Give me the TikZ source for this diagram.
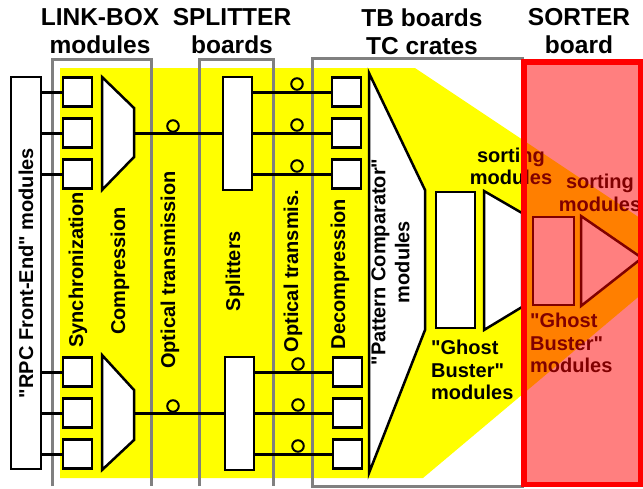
\documentclass[tikz,border=0pt]{standalone}
\usepackage{fontspec}
\setmainfont{Liberation Sans}[Ligatures=TeXOff]
\usepackage{xcolor}
\usepackage{tikz}
\usetikzlibrary{positioning, calc}
\definecolor{frgray}{RGB}{128,128,128}
\definecolor{hlyellow}{RGB}{255,255,0}

\begin{document}
\begin{tikzpicture}[x=1pt, y=-1pt,
  every node/.style={font=\fontsize{20}{22.5}\selectfont\bfseries, inner sep=0pt},
  title/.style={font=\fontsize{24.5}{28}\selectfont\bfseries, align=center, anchor=north},
  frame/.style={draw=frgray, line width=3pt},
  cell/.style={draw, line width=2.5pt, fill=white, minimum width=29pt, minimum height=29pt},
  link/.style={line width=3pt},
  fibre/.style={draw, circle, line width=2pt, minimum size=11.5pt},
  shell/.style={draw, line width=2.5pt, fill=white, line join=miter}]
\useasboundingbox (0,0) rectangle (643,488);

\fill[hlyellow] (60,68) -- (415,68) -- (643,220) -- (643,293) -- (423,478) -- (60,478) -- cycle;

\draw[frame] (52,486) |- (151,59) -- (151,486);
\draw[frame] (199,486) |- (273,59) -- (273,486);
\draw[frame] (312,486) |- (522,58) -- (522,486) -- cycle;

\node[title] (tlink) at (100,8.5) {LINK-BOX\\modules};
\node[title] (tsplit) at (232,8.5) {SPLITTER\\boards};
\node[title] (ttb) at (422,8.5) {TB boards\\TC crates};
\node[title] (tsort) at (579,8.5) {SORTER\\board};

\node[draw, line width=2.5pt, fill=white, rotate=90, minimum width=392pt, minimum height=30pt] (rpc) at (26,273) {"RPC Front-End" modules};

\foreach \i/\y in {1/92,2/133,3/174,4/372,5/413,6/454} {
  \node[cell] (s\i) at (77.5,\y) {};
  \draw[link] (rpc.south |- s\i.west) -- (s\i.west);
}

\draw[shell] (102,77) -- (134,108) -- (134,157) -- (102,190) -- cycle;
\coordinate (cmpa) at (134,133);
\draw[shell] (102,355) -- (134,390) -- (134,440) -- (102,470) -- cycle;
\coordinate (cmpb) at (134,413);

\node[cell, minimum height=113pt] (spla) at (237.5,133.5) {};
\node[cell, minimum height=113pt] (splb) at (239.5,413.5) {};

\draw[link] (cmpa) -- (cmpa -| spla.west);
\draw[link] (cmpb) -- (cmpb -| splb.west);
\node[fibre] (oa) at (173,126) {};
\node[fibre] (ob) at (173,406) {};

\foreach \i/\y in {1/92,2/133,3/174} {
  \node[cell] (d\i) at (346.5,\y) {};
  \draw[link] (spla.east |- d\i.west) -- (d\i.west);
  \node[fibre] (fa\i) at (297,\y-8) {};
}
\foreach \i/\y in {4/372,5/413,6/454} {
  \node[cell] (d\i) at (347.5,\y) {};
  \draw[link] (splb.east |- d\i.west) -- (d\i.west);
  \node[fibre] (fb\i) at (298,\y-8) {};
}

\draw[shell] (369,73) -- (425,190) -- (425,330) -- (369,473) -- cycle;
\node[cell, minimum width=39pt, minimum height=136pt] (gba) at (455.5,260) {};
\draw[shell] (484,191) -- (522,213) -- (522,307) -- (484,330) -- cycle;

\node[rotate=90] (lsync) at (78,270) {Synchronization};
\node[rotate=90] (lcomp) at (120,271) {Compression};
\node[rotate=90] (lopt) at (170,270) {Optical transmission};
\node[rotate=90] (lspl) at (235,271) {Splitters};
\node[rotate=90] (lopt2) at (293,271) {Optical transmis.};
\node[rotate=90] (ldec) at (340,274) {Decompression};
\node[rotate=90, align=center, font=\fontsize{20}{24}\selectfont\bfseries] (lpac) at (390.5,262) {"Pattern Comparator"\\modules};

\node[align=center, anchor=north] (lsorta) at (511,147.5) {sorting\\modules};
\node[align=left, anchor=north west] (lgba) at (431,340) {"Ghost\\Buster"\\modules};

\node[cell, minimum width=41pt, minimum height=88pt] (gbb) at (553.5,261) {};
\draw[shell] (581,216) -- (642,258) -- (581,306) -- cycle;
\node[align=center, anchor=north] (lsortb) at (600,174) {sorting\\modules};
\node[align=left, anchor=north west] (lgbb) at (530,313) {"Ghost\\Buster"\\modules};

\fill[red, opacity=0.5] (521,59) rectangle (643,487);
\draw[red, line width=5.5pt] (523.75,61.75) rectangle (640.25,484.25);
\end{tikzpicture}
\end{document}
